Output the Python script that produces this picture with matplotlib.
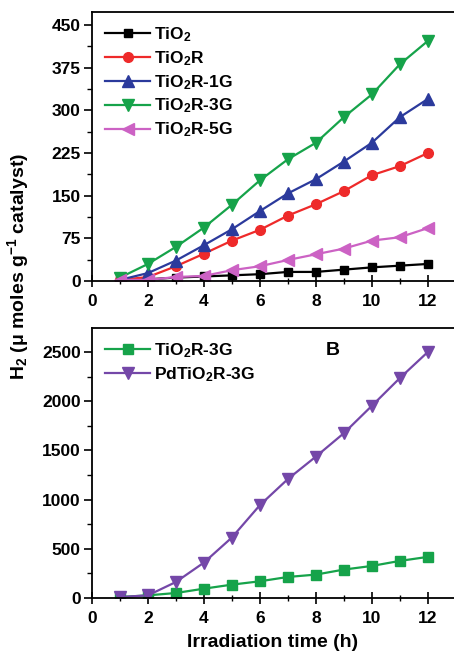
import numpy as np
import matplotlib
matplotlib.use("Agg")
import matplotlib.pyplot as plt
from matplotlib.ticker import MultipleLocator

plt.rcParams['font.family'] = ['Liberation Sans', 'DejaVu Sans']
plt.rcParams['font.weight'] = 'bold'
plt.rcParams['mathtext.fontset'] = 'custom'
plt.rcParams['mathtext.rm'] = 'Liberation Sans:bold'
plt.rcParams['mathtext.bf'] = 'Liberation Sans:bold'
plt.rcParams['mathtext.default'] = 'bf'

# irradiation time (h)
hours = [1, 2, 3, 4, 5, 6, 7, 8, 9, 10, 11, 12]

# panel A
tio2 = [2, 3, 6, 8, 10, 12, 16, 16, 20, 24, 27, 30]
tio2_r = [2, 7, 26, 48, 71, 90, 115, 135, 158, 186, 202, 225]
tio2_r1g = [2, 14, 36, 63, 91, 123, 154, 179, 210, 243, 288, 320]
tio2_r3g = [6, 30, 60, 94, 134, 177, 214, 243, 288, 328, 381, 422]
tio2_r5g = [2, 2, 7, 9, 19, 26, 37, 47, 57, 71, 77, 93]

# panel B
b_tio2_r3g = [10, 27, 51, 95, 136, 170, 214, 238, 289, 326, 377, 418]
pd_tio2_r3g = [10, 27, 163, 360, 615, 944, 1209, 1437, 1675, 1953, 2235, 2500]

fig = plt.figure(figsize=(4.54, 6.54), dpi=100)
axA = fig.add_axes([0.2026, 0.5703, 0.797, 0.4114])
axB = fig.add_axes([0.2026, 0.0856, 0.797, 0.4130])

ms = 7
lw = 1.6
axA.plot(hours, tio2, '-s', color='black', lw=lw, ms=ms-1, label='TiO$_2$')
axA.plot(hours, tio2_r, '-o', color='#ee2a2a', lw=lw, ms=ms, label='TiO$_2$R')
axA.plot(hours, tio2_r1g, '-^', color='#2b3a9c', lw=lw, ms=ms+1, label='TiO$_2$R-1G')
axA.plot(hours, tio2_r3g, '-v', color='#16a34a', lw=lw, ms=ms+1, label='TiO$_2$R-3G')
axA.plot(hours, tio2_r5g, '-<', color='#cc62c4', lw=lw, ms=ms+1, label='TiO$_2$R-5G')

axB.plot(hours, b_tio2_r3g, '-s', color='#16a34a', lw=lw, ms=ms, label='TiO$_2$R-3G')
axB.plot(hours, pd_tio2_r3g, '-v', color='#7447a8', lw=lw, ms=ms+1, label='PdTiO$_2$R-3G')

axA.set_xlim(0, 12.93)
axA.set_ylim(0, 473)
axA.yaxis.set_major_locator(MultipleLocator(75))
axA.yaxis.set_minor_locator(MultipleLocator(37.5))

axB.set_xlim(0, 12.93)
axB.set_ylim(0, 2745)
axB.yaxis.set_major_locator(MultipleLocator(500))
axB.yaxis.set_minor_locator(MultipleLocator(250))
axB.text(8.6, 2520, 'B', fontsize=14, fontweight='bold', ha='center', va='center')

for ax in (axA, axB):
    ax.xaxis.set_major_locator(MultipleLocator(2))
    ax.xaxis.set_minor_locator(MultipleLocator(1))
    ax.spines['right'].set_visible(False)
    for s in ax.spines.values():
        s.set_linewidth(1.3)
    ax.tick_params(axis='y', which='major', direction='out', length=6, width=1.2, labelsize=12.5, pad=2)
    ax.tick_params(axis='y', which='minor', direction='out', length=3.5, width=1.0)
    ax.tick_params(axis='x', which='major', direction='inout', length=8, width=1.2, labelsize=12.5, pad=5)
    ax.tick_params(axis='x', which='minor', direction='inout', length=5, width=1.0)
    ax.legend(loc='upper left', frameon=False, fontsize=12.5, handlelength=2.6,
              handletextpad=0.2, labelspacing=0.3, borderaxespad=0.35)

axB.set_xlabel('Irradiation time (h)', fontsize=14, fontweight='bold', labelpad=6)
fig.text(0.04, 1 - 266 / 654, 'H$_2$ (μ moles g$^{-1}$ catalyst)', rotation=90,
         fontsize=14, fontweight='bold', ha='center', va='center')

fig.savefig('out.png', dpi=100)
